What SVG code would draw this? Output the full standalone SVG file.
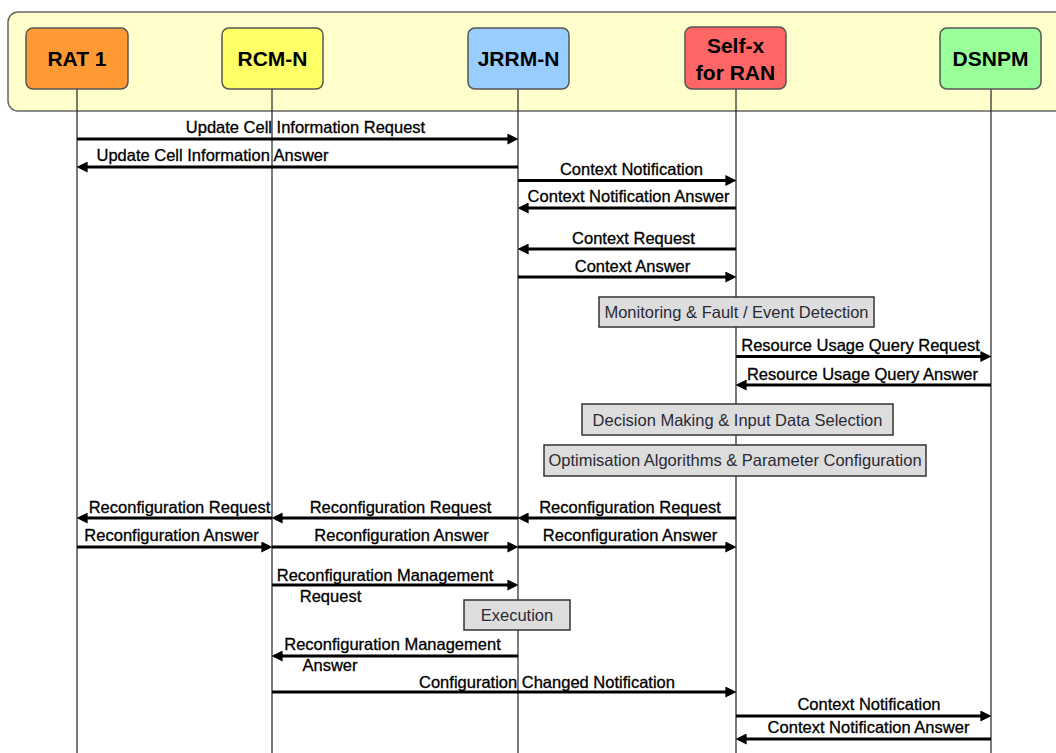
<svg xmlns="http://www.w3.org/2000/svg" width="1056" height="753" viewBox="0 0 1056 753">
  <defs>
    <marker id="arrow" viewBox="0 0 10 10" refX="6" refY="5" markerWidth="11" markerHeight="11" markerUnits="userSpaceOnUse" orient="auto">
      <path d="M0,0 L10,5 L0,10 z" fill="#000"/>
    </marker>
    <style>
      .frame { fill: #FFFFCC; stroke: #666; stroke-width: 1.5; }
      .node { stroke: #555; stroke-width: 1.5; }
      .node-label { font-family: "Liberation Sans", Arial, sans-serif; font-size: 21px; font-weight: bold; fill: #000; text-anchor: middle; }
      .lifeline { stroke: #222; stroke-width: 1.2; fill: none; }
      .msg { stroke: #000; stroke-width: 3; fill: none; marker-end: url(#arrow); }
      .msg-label { font-family: "Liberation Sans", Arial, sans-serif; font-size: 16.5px; fill: #000; stroke: #000; stroke-width: 0.3; text-anchor: middle; }
      .step { fill: #DDDDDD; stroke: #333; stroke-width: 1.5; }
      .step-label { font-family: "Liberation Sans", Arial, sans-serif; font-size: 16.5px; fill: #2a2a35; text-anchor: middle; }
    </style>
  </defs>

  <rect width="1056" height="753" fill="#fff"/>

  <!-- entity header band -->
  <g id="header">
    <rect class="frame" x="8" y="12" width="1070" height="99" rx="10"/>
  </g>

  <g id="connectors">
    <!-- lifelines -->
    <line class="lifeline" x1="77" y1="89" x2="77" y2="753"/>
    <line class="lifeline" x1="272" y1="89" x2="272" y2="753"/>
    <line class="lifeline" x1="518" y1="89" x2="518" y2="753"/>
    <line class="lifeline" x1="736" y1="89" x2="736" y2="753"/>
    <line class="lifeline" x1="991" y1="89" x2="991" y2="753"/>

    <!-- cell information update -->
    <line class="msg" x1="77" y1="139" x2="514" y2="139"/>
    <text class="msg-label" x="305.5" y="133">Update Cell Information Request</text>
    <line class="msg" x1="518" y1="167" x2="81" y2="167"/>
    <text class="msg-label" x="212.5" y="161">Update Cell Information Answer</text>

    <!-- context exchange JRRM-N / Self-x -->
    <line class="msg" x1="518" y1="180.5" x2="732" y2="180.5"/>
    <text class="msg-label" x="631.5" y="175">Context Notification</text>
    <line class="msg" x1="736" y1="208" x2="522" y2="208"/>
    <text class="msg-label" x="628.5" y="202">Context Notification Answer</text>
    <line class="msg" x1="736" y1="249" x2="522" y2="249"/>
    <text class="msg-label" x="633.5" y="244">Context Request</text>
    <line class="msg" x1="518" y1="277" x2="732" y2="277"/>
    <text class="msg-label" x="632.5" y="272">Context Answer</text>

    <!-- resource usage query -->
    <line class="msg" x1="736" y1="356.5" x2="987" y2="356.5"/>
    <text class="msg-label" x="860.5" y="351">Resource Usage Query Request</text>
    <line class="msg" x1="991" y1="385" x2="740" y2="385"/>
    <text class="msg-label" x="862.5" y="380">Resource Usage Query Answer</text>

    <!-- reconfiguration chain -->
    <line class="msg" x1="272" y1="518" x2="81" y2="518"/>
    <text class="msg-label" x="179.5" y="513">Reconfiguration Request</text>
    <line class="msg" x1="518" y1="518" x2="276" y2="518"/>
    <text class="msg-label" x="400.5" y="513">Reconfiguration Request</text>
    <line class="msg" x1="736" y1="518" x2="522" y2="518"/>
    <text class="msg-label" x="630" y="513">Reconfiguration Request</text>

    <line class="msg" x1="77" y1="547" x2="268" y2="547"/>
    <text class="msg-label" x="171.5" y="541">Reconfiguration Answer</text>
    <line class="msg" x1="272" y1="547" x2="514" y2="547"/>
    <text class="msg-label" x="401.5" y="541">Reconfiguration Answer</text>
    <line class="msg" x1="518" y1="547" x2="732" y2="547"/>
    <text class="msg-label" x="630" y="541">Reconfiguration Answer</text>

    <!-- reconfiguration management -->
    <line class="msg" x1="272" y1="585" x2="514" y2="585"/>
    <text class="msg-label" x="385" y="581">Reconfiguration Management</text>
    <text class="msg-label" x="330.5" y="602">Request</text>
    <line class="msg" x1="518" y1="656" x2="276" y2="656"/>
    <text class="msg-label" x="392.5" y="650">Reconfiguration Management</text>
    <text class="msg-label" x="330" y="671">Answer</text>

    <line class="msg" x1="272" y1="692" x2="732" y2="692"/>
    <text class="msg-label" x="547" y="688">Configuration Changed Notification</text>

    <!-- context exchange Self-x / DSNPM -->
    <line class="msg" x1="736" y1="716" x2="987" y2="716"/>
    <text class="msg-label" x="869" y="710">Context Notification</text>
    <line class="msg" x1="991" y1="739" x2="740" y2="739"/>
    <text class="msg-label" x="868.5" y="733">Context Notification Answer</text>
  </g>

  <!-- entities -->
  <g id="rat1">
    <rect class="node" x="26" y="28" width="102" height="61" rx="7" fill="#FF9933"/>
    <text class="node-label" x="77" y="66">RAT 1</text>
  </g>
  <g id="rcm-n">
    <rect class="node" x="222" y="28" width="101" height="61" rx="7" fill="#FFFF66"/>
    <text class="node-label" x="272.5" y="66">RCM-N</text>
  </g>
  <g id="jrrm-n">
    <rect class="node" x="468" y="28" width="101" height="61" rx="7" fill="#99CCFF"/>
    <text class="node-label" x="518.5" y="66">JRRM-N</text>
  </g>
  <g id="self-x">
    <rect class="node" x="685" y="27" width="101" height="62" rx="7" fill="#FF6666"/>
    <text class="node-label" x="735.5" y="53">Self-x</text>
    <text class="node-label" x="735.5" y="80">for RAN</text>
  </g>
  <g id="dsnpm">
    <rect class="node" x="940" y="28" width="101" height="61" rx="7" fill="#99FF99"/>
    <text class="node-label" x="990.5" y="66">DSNPM</text>
  </g>

  <!-- processing steps -->
  <g id="monitoring">
    <rect class="step" x="599" y="297" width="275" height="30"/>
    <text class="step-label" x="736.5" y="318">Monitoring &amp; Fault / Event Detection</text>
  </g>
  <g id="decision">
    <rect class="step" x="582" y="404" width="311" height="31"/>
    <text class="step-label" x="737.5" y="425.5">Decision Making &amp; Input Data Selection</text>
  </g>
  <g id="optimisation">
    <rect class="step" x="544" y="445" width="382" height="31"/>
    <text class="step-label" x="735" y="466">Optimisation Algorithms &amp; Parameter Configuration</text>
  </g>
  <g id="execution">
    <rect class="step" x="464" y="600" width="106" height="30"/>
    <text class="step-label" x="517" y="620.5">Execution</text>
  </g>
</svg>
